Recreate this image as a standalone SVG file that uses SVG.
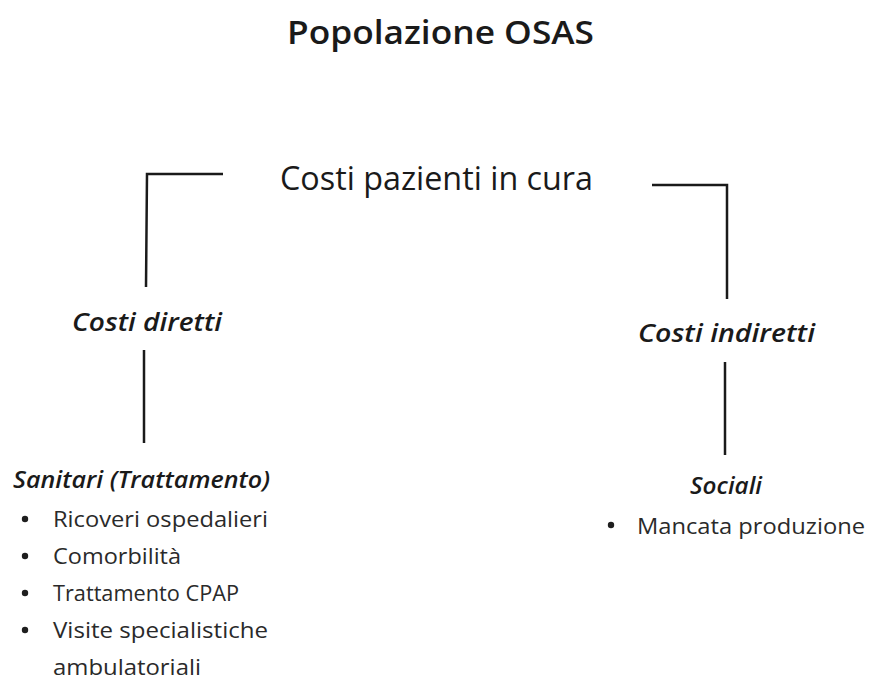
<svg xmlns="http://www.w3.org/2000/svg" width="870" height="683" viewBox="0 0 870 683">
<style>
text{font-family:"Open Sans","Noto Sans","DejaVu Sans",sans-serif;fill:#1a1a1a}
.title{font-size:33px;font-weight:600}
.head{font-size:32px;font-weight:400}
.cat{font-size:25px;font-weight:600;font-style:italic}
.sub{font-size:23px;font-weight:600;font-style:italic}
.item{font-size:22px;font-weight:400;fill:#2a2a2a}
.conn{stroke:#1a1a1a;stroke-width:2.5;fill:none;stroke-linecap:butt;stroke-linejoin:miter}
.bullet{fill:#1e1e1e}
</style>
<rect width="870" height="683" fill="#ffffff"/>
<g id="title">
<text class="title" x="287" y="44" textLength="307" lengthAdjust="spacingAndGlyphs">Popolazione OSAS</text>
</g>
<g id="costi-pazienti">
<text class="head" x="280" y="190" textLength="313" lengthAdjust="spacingAndGlyphs">Costi pazienti in cura</text>
</g>
<g id="costi-diretti">
<text class="cat" x="72" y="331" textLength="150" lengthAdjust="spacingAndGlyphs">Costi diretti</text>
</g>
<g id="costi-indiretti">
<text class="cat" x="638" y="342" textLength="177" lengthAdjust="spacingAndGlyphs">Costi indiretti</text>
</g>
<g id="sanitari">
<text class="sub" x="13" y="488" textLength="257" lengthAdjust="spacingAndGlyphs">Sanitari (Trattamento)</text>
<circle class="bullet" cx="25" cy="519" r="3.2"/>
<text class="item" x="53" y="527" textLength="215" lengthAdjust="spacingAndGlyphs">Ricoveri ospedalieri</text>
<circle class="bullet" cx="25" cy="556" r="3.2"/>
<text class="item" x="53" y="564" textLength="128" lengthAdjust="spacingAndGlyphs">Comorbilità</text>
<circle class="bullet" cx="25" cy="593" r="3.2"/>
<text class="item" x="53" y="601" textLength="186" lengthAdjust="spacingAndGlyphs">Trattamento CPAP</text>
<circle class="bullet" cx="25" cy="630" r="3.2"/>
<text class="item" x="53" y="638" textLength="215" lengthAdjust="spacingAndGlyphs">Visite specialistiche</text>
<text class="item" x="53" y="675" textLength="148" lengthAdjust="spacingAndGlyphs">ambulatoriali</text>
</g>
<g id="sociali">
<text class="sub" x="690" y="494" textLength="72" lengthAdjust="spacingAndGlyphs">Sociali</text>
<circle class="bullet" cx="611" cy="525" r="3.2"/>
<text class="item" x="637" y="534" textLength="228" lengthAdjust="spacingAndGlyphs">Mancata produzione</text>
</g>
<g id="connectors">
<polyline class="conn" points="223,174 147,174 146,287"/>
<line class="conn" x1="144" y1="350" x2="144" y2="443"/>
<polyline class="conn" points="652,185 727,185 727,299"/>
<line class="conn" x1="725" y1="362" x2="725" y2="455"/>
</g>
</svg>
